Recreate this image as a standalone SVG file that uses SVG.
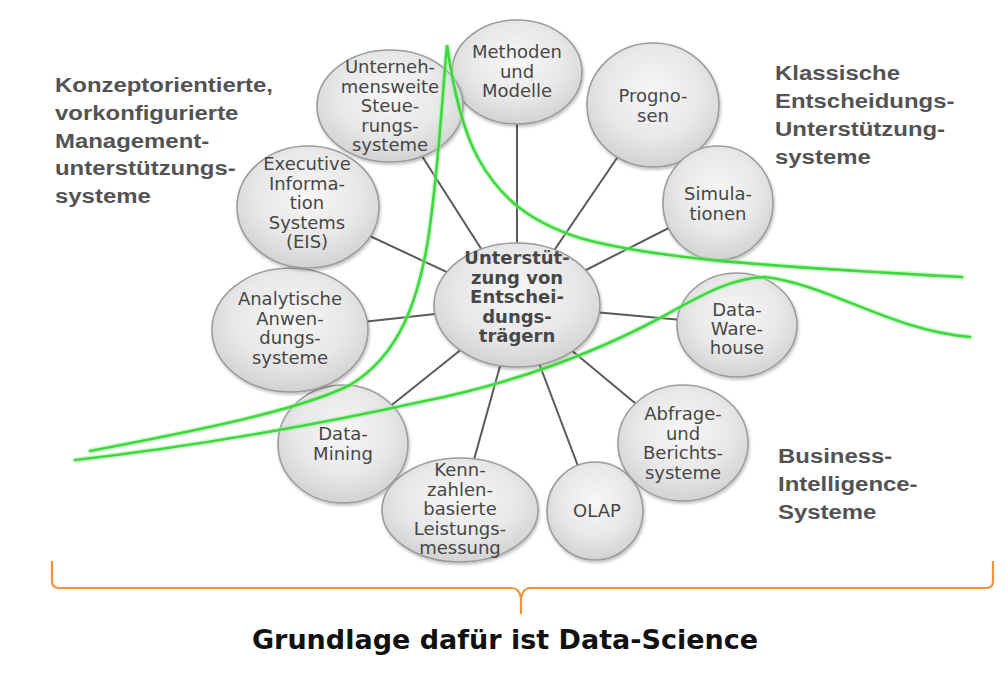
<svg xmlns="http://www.w3.org/2000/svg" width="1005" height="681" viewBox="0 0 1005 681">
<defs>
<radialGradient id="nodeFill" cx="50%" cy="40%" r="60%">
<stop offset="0" stop-color="#f7f7f7"/>
<stop offset="0.6" stop-color="#e8e8e8"/>
<stop offset="1" stop-color="#d2d2d2"/>
</radialGradient>
<filter id="shadow" x="-10%" y="-10%" width="125%" height="130%">
<feDropShadow dx="1" dy="2" stdDeviation="1.5" flood-color="#000" flood-opacity="0.25"/>
</filter>
</defs>
<style>
.node ellipse{fill:url(#nodeFill);stroke:#9c9c9c;stroke-width:1.6;filter:url(#shadow)}
.nt{font-family:"DejaVu Sans",Verdana,sans-serif;font-size:18px;fill:#474747;text-anchor:middle}
.ct{font-family:"DejaVu Sans",Verdana,sans-serif;font-size:18px;font-weight:bold;fill:#474747;text-anchor:middle}
.lbl{font-family:"Liberation Sans",Arial,sans-serif;font-size:21px;font-weight:bold;fill:#535353}
.conn line{stroke:#5a5a5a;stroke-width:2}
.green{fill:none;stroke:#3cd83c;stroke-width:2.6;stroke-linecap:round}
.halo{fill:none;stroke:#9cf09c;stroke-width:5.5;stroke-opacity:0.45;stroke-linecap:round}
.title{font-family:"DejaVu Sans",Verdana,sans-serif;font-size:27px;font-weight:bold;fill:#111;text-anchor:middle}
</style>
<rect width="1005" height="681" fill="#fff"/>

<g id="connectors" class="conn">
<line x1="517" y1="305" x2="517" y2="72"/>
<line x1="517" y1="305" x2="390" y2="106"/>
<line x1="517" y1="305" x2="653" y2="105"/>
<line x1="517" y1="305" x2="718" y2="203"/>
<line x1="517" y1="305" x2="737" y2="325"/>
<line x1="517" y1="305" x2="683" y2="443"/>
<line x1="517" y1="305" x2="595" y2="511"/>
<line x1="517" y1="305" x2="460" y2="510"/>
<line x1="517" y1="305" x2="343" y2="444"/>
<line x1="517" y1="305" x2="290" y2="330"/>
<line x1="517" y1="305" x2="308" y2="207"/>
</g>

<g id="node-methoden" class="node">
<ellipse cx="517" cy="72" rx="65" ry="52"/>
<text class="nt" x="517"><tspan x="517" y="58">Methoden</tspan><tspan x="517" y="77.5">und</tspan><tspan x="517" y="97">Modelle</tspan></text>
</g>
<g id="node-steuerung" class="node">
<ellipse cx="390" cy="106" rx="73" ry="56"/>
<text class="nt"><tspan x="390" y="73">Unterneh-</tspan><tspan x="390" y="92.5">mensweite</tspan><tspan x="390" y="112">Steue-</tspan><tspan x="390" y="131.5">rungs-</tspan><tspan x="390" y="151">systeme</tspan></text>
</g>
<g id="node-prognosen" class="node">
<ellipse cx="653" cy="105" rx="66" ry="62"/>
<text class="nt"><tspan x="653" y="102">Progno-</tspan><tspan x="653" y="121.5">sen</tspan></text>
</g>
<g id="node-simulationen" class="node">
<ellipse cx="718" cy="203" rx="55" ry="57"/>
<text class="nt"><tspan x="718" y="200">Simula-</tspan><tspan x="718" y="219.5">tionen</tspan></text>
</g>
<g id="node-datawarehouse" class="node">
<ellipse cx="737" cy="325" rx="60" ry="52"/>
<text class="nt"><tspan x="737" y="316">Data-</tspan><tspan x="737" y="335">Ware-</tspan><tspan x="737" y="354">house</tspan></text>
</g>
<g id="node-abfrage" class="node">
<ellipse cx="683" cy="443" rx="65" ry="58"/>
<text class="nt"><tspan x="683" y="420">Abfrage-</tspan><tspan x="683" y="439.5">und</tspan><tspan x="683" y="459">Berichts-</tspan><tspan x="683" y="478.5">systeme</tspan></text>
</g>
<g id="node-olap" class="node">
<ellipse cx="595" cy="511" rx="48" ry="49"/>
<text class="nt"><tspan x="597" y="517">OLAP</tspan></text>
</g>
<g id="node-datamining" class="node">
<ellipse cx="343" cy="444" rx="65" ry="59"/>
<text class="nt"><tspan x="343" y="440">Data-</tspan><tspan x="343" y="459.5">Mining</tspan></text>
</g>
<g id="node-kennzahlen" class="node">
<ellipse cx="460" cy="510" rx="78" ry="52"/>
<text class="nt"><tspan x="460" y="476">Kenn-</tspan><tspan x="460" y="495.5">zahlen-</tspan><tspan x="460" y="515">basierte</tspan><tspan x="460" y="534.5">Leistungs-</tspan><tspan x="460" y="554">messung</tspan></text>
</g>
<g id="node-analytische" class="node">
<ellipse cx="290" cy="330" rx="78" ry="62"/>
<text class="nt"><tspan x="290" y="305">Analytische</tspan><tspan x="290" y="324.5">Anwen-</tspan><tspan x="290" y="344">dungs-</tspan><tspan x="290" y="363.5">systeme</tspan></text>
</g>
<g id="node-eis" class="node">
<ellipse cx="308" cy="207" rx="71" ry="61"/>
<text class="nt"><tspan x="307" y="170">Executive</tspan><tspan x="307" y="189.5">Informa-</tspan><tspan x="307" y="209">tion</tspan><tspan x="307" y="228.5">Systems</tspan><tspan x="307" y="248">(EIS)</tspan></text>
</g>
<g id="node-center" class="node">
<ellipse cx="517" cy="305" rx="83" ry="62"/>
<text class="ct"><tspan x="517" y="264">Unterstüt-</tspan><tspan x="517" y="283.5">zung von</tspan><tspan x="517" y="303">Entschei-</tspan><tspan x="517" y="322.5">dungs-</tspan><tspan x="517" y="342">trägern</tspan></text>
</g>

<g id="green-curves">
<path class="halo" d="M 90 451 C 200 430, 300 410, 350 385 C 400 355, 418 300, 428 240 C 438 175, 442 100, 447 45 C 452 80, 460 125, 478 158 C 500 198, 530 222, 580 238 C 650 258, 760 266, 962 277"/>
<path class="green" d="M 90 451 C 200 430, 300 410, 350 385 C 400 355, 418 300, 428 240 C 438 175, 442 100, 447 45 C 452 80, 460 125, 478 158 C 500 198, 530 222, 580 238 C 650 258, 760 266, 962 277"/>
<path class="halo" d="M 75 460 C 200 446, 330 422, 420 402 C 520 382, 600 350, 660 318 C 700 296, 730 278, 765 277 C 830 285, 890 330, 970 337"/>
<path class="green" d="M 75 460 C 200 446, 330 422, 420 402 C 520 382, 600 350, 660 318 C 700 296, 730 278, 765 277 C 830 285, 890 330, 970 337"/>
</g>

<g id="label-left" transform="translate(55 0) scale(1.14 1)">
<text class="lbl"><tspan x="0" y="92">Konzeptorientierte,</tspan><tspan x="0" y="119.8">vorkonfigurierte</tspan><tspan x="0" y="147.6">Management-</tspan><tspan x="0" y="175.4">unterstützungs-</tspan><tspan x="0" y="203.2">systeme</tspan></text>
</g>
<g id="label-right-top" transform="translate(775 0) scale(1.14 1)">
<text class="lbl"><tspan x="0" y="80">Klassische</tspan><tspan x="0" y="108">Entscheidungs-</tspan><tspan x="0" y="136">Unterstützung-</tspan><tspan x="0" y="164">systeme</tspan></text>
</g>
<g id="label-right-bottom" transform="translate(778 0) scale(1.14 1)">
<text class="lbl"><tspan x="0" y="463">Business-</tspan><tspan x="0" y="491">Intelligence-</tspan><tspan x="0" y="519">Systeme</tspan></text>
</g>

<g id="bracket">
<path d="M 52 561 V 581 Q 52 588 59 588 H 512 Q 519 588 521 598 V 614 M 521 598 Q 523 588 530 588 H 986 Q 993 588 993 581 V 561" fill="none" stroke="#f2923a" stroke-width="2.2"/>
</g>
<g id="title">
<text class="title" x="505" y="649">Grundlage dafür ist Data-Science</text>
</g>
</svg>
